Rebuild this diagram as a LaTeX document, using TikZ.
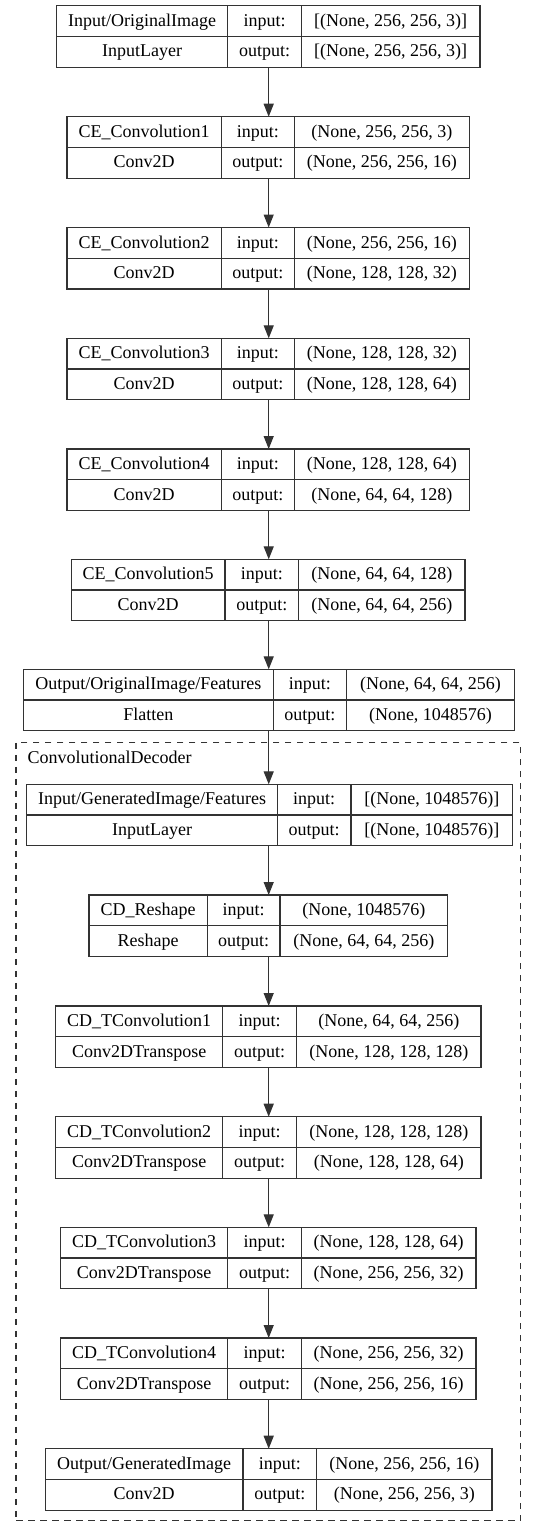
\documentclass[tikz,border=0pt]{standalone}
\usepackage{fontspec}
\setmainfont{Liberation Serif}
\usetikzlibrary{arrows.meta}
\tikzset{
  boxline/.style={draw=black!80, line width=1.3pt},
  cell/.style={anchor=base, inner sep=0pt, font=\fontsize{18}{21}\selectfont, text=black},
  flow/.style={draw=black!80, line width=1.3pt, -{Triangle[length=13pt,width=10pt]}},
  cluster/.style={draw=black!80, line width=1.1pt, dash pattern=on 6.5pt off 5.5pt},
}
% #1 id, #2 top, #3 left, #4 divider 1, #5 divider 2, #6 right, #7 name, #8 type
\newcommand\lyr[8]{%
  \node[boxline, anchor=north west, minimum width={#6-#3}, minimum height=61.5pt, inner sep=0pt, outer sep=0pt] (#1) at (#3,#2) {};
  \draw[boxline] ({#4},{#2}) -- ({#4},{#2+61.5});
  \draw[boxline] ({#5},{#2}) -- ({#5},{#2+61.5});
  \draw[boxline] ({#3},{#2+30.75}) -- ({#6},{#2+30.75});
  \node[cell] (#1-n) at ({(#3+#4)/2},{#2+20.5}) {#7};
  \node[cell] (#1-t) at ({(#3+#4)/2},{#2+51.25}) {#8};
  \node[cell] (#1-il) at ({(#4+#5)/2},{#2+20.5}) {input:};
  \node[cell] (#1-ol) at ({(#4+#5)/2},{#2+51.25}) {output:};
  \coordinate (#1-ic) at ({(#5+#6)/2},{#2+20.5});
  \coordinate (#1-oc) at ({(#5+#6)/2},{#2+51.25});
}
\newcommand\lio[3]{%
  \node[cell] (#1-iv) at (#1-ic) {#2};
  \node[cell] (#1-ov) at (#1-oc) {#3};
}
\begin{document}
\begin{tikzpicture}[x=1pt,y=-1pt]
\useasboundingbox (0,0) rectangle (536,1537);
\fill[white] (0,0) rectangle (536,1537);

\node[cluster, anchor=north west, minimum width=504.5pt, minimum height=778.4pt, inner sep=0pt, outer sep=0pt] (decoder) at (16,742.3) {};
\node[anchor=base west, inner sep=0pt, font=\fontsize{18}{21}\selectfont] (decoderlabel) at (27.4,763.3) {ConvolutionalDecoder};

\lyr{L1}{5.7}{56.5}{227.7}{301.4}{480}{Input/OriginalImage}{InputLayer}
\lio{L1}{[(None, 256, 256, 3)]}{[(None, 256, 256, 3)]}
\lyr{L2}{116.7}{67.1}{221.2}{294.5}{469.2}{CE\_Convolution1}{Conv2D}
\lio{L2}{(None, 256, 256, 3)}{(None, 256, 256, 16)}
\lyr{L3}{227.5}{67.1}{221.2}{294.5}{469.2}{CE\_Convolution2}{Conv2D}
\lio{L3}{(None, 256, 256, 16)}{(None, 128, 128, 32)}
\lyr{L4}{338.3}{67.1}{221.2}{294.5}{469.2}{CE\_Convolution3}{Conv2D}
\lio{L4}{(None, 128, 128, 32)}{(None, 128, 128, 64)}
\lyr{L5}{449}{67.1}{221.2}{294.5}{469.2}{CE\_Convolution4}{Conv2D}
\lio{L5}{(None, 128, 128, 64)}{(None, 64, 64, 128)}
\lyr{L6}{559.3}{71.2}{225}{298.6}{465}{CE\_Convolution5}{Conv2D}
\lio{L6}{(None, 64, 64, 128)}{(None, 64, 64, 256)}
\lyr{L7}{669.3}{23.3}{273.3}{346.6}{514.4}{Output/OriginalImage/Features}{Flatten}
\lio{L7}{(None, 64, 64, 256)}{(None, 1048576)}
\lyr{L8}{784.3}{26.7}{277.4}{351}{512.7}{Input/GeneratedImage/Features}{InputLayer}
\lio{L8}{[(None, 1048576)]}{[(None, 1048576)]}
\lyr{L9}{895}{89}{207.2}{280}{447.6}{CD\_Reshape}{Reshape}
\lio{L9}{(None, 1048576)}{(None, 64, 64, 256)}
\lyr{L10}{1006}{55.8}{222.6}{296.6}{481}{CD\_TConvolution1}{Conv2DTranspose}
\lio{L10}{(None, 64, 64, 256)}{(None, 128, 128, 128)}
\lyr{L11}{1116.7}{55.8}{222.6}{296.6}{481}{CD\_TConvolution2}{Conv2DTranspose}
\lio{L11}{(None, 128, 128, 128)}{(None, 128, 128, 64)}
\lyr{L12}{1227.3}{60.6}{227.7}{301.4}{476}{CD\_TConvolution3}{Conv2DTranspose}
\lio{L12}{(None, 128, 128, 64)}{(None, 256, 256, 32)}
\lyr{L13}{1338}{60.6}{227.7}{301.4}{476}{CD\_TConvolution4}{Conv2DTranspose}
\lio{L13}{(None, 256, 256, 32)}{(None, 256, 256, 16)}
\lyr{L14}{1448.7}{45.2}{243}{316.8}{492}{Output/GeneratedImage}{Conv2D}
\lio{L14}{(None, 256, 256, 16)}{(None, 256, 256, 3)}

\coordinate (ax) at (268.7,0);
\foreach \a/\b in {L1/L2,L2/L3,L3/L4,L4/L5,L5/L6,L6/L7,L7/L8,L8/L9,L9/L10,L10/L11,L11/L12,L12/L13,L13/L14}{
  \draw[flow] (ax |- \a.south) -- (ax |- \b.north);
}
\end{tikzpicture}
\end{document}
